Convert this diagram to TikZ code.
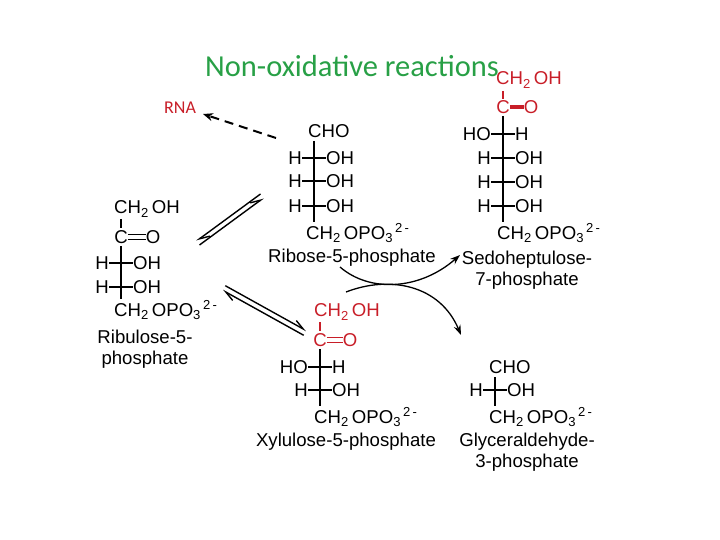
\documentclass[tikz,border=0pt]{standalone}
\usepackage{fontspec}
\setmainfont{Liberation Sans}
\newfontfamily\calfont{Carlito}
\usetikzlibrary{arrows.meta}
\definecolor{tgreen}{RGB}{40,160,70}
\definecolor{tred}{RGB}{200,30,40}
\newcommand{\ctw}{CH\textsubscript{2}\,OH}
\newcommand{\pho}{CH\textsubscript{2}\,OPO\textsubscript{3}\textsuperscript{\,2\,-}}
% row: name, spine x, y, left text, right text
\newcommand{\frow}[5]{%
  \node[txt,anchor=east] (#1L) at (#2-12,#3) {#4};
  \node[txt,anchor=west] (#1R) at (#2+12,#3) {#5};
  \draw[bond] (#1L.east) -- (#1R.west);}
\begin{document}
\begin{tikzpicture}[x=1pt,y=-1pt,
  txt/.style={inner sep=0pt,font=\fontsize{18.6}{21}\selectfont},
  bond/.style={line width=1.8pt},
  eq/.style={line width=1.4pt,-{Straight Barb[left,length=10pt,width=8pt]}},
  curv/.style={line width=1.3pt,-{Stealth[length=10pt,width=7pt]}}]
\useasboundingbox (0,0) rectangle (720,540);
\node[font=\calfont\fontsize{30.5}{33}\selectfont,text=tgreen] (title) at (352,66) {Non-oxidative reactions};
\node[font=\calfont\fontsize{18}{20}\selectfont,text=tred] (rna) at (180,108) {RNA};

% Ribose-5-phosphate
\node[txt,anchor=west] (rtop) at (308,131) {CHO};
\frow{ra}{314}{158}{H}{OH}
\frow{rb}{314}{181}{H}{OH}
\frow{rc}{314}{206}{H}{OH}
\node[txt,anchor=west] (rbot) at (306,233) {\pho};
\draw[bond] (314,141) -- (314,222);
\node[txt] (rlab) at (352,258) {Ribose-5-phosphate};

% Ribulose-5-phosphate
\node[txt,anchor=west] (utop) at (114,209) {\ctw};
\node[txt] (uc) at (121,237) {C};
\node[txt] (uo) at (153,237) {O};
\draw[line width=1.2pt] ([yshift=-2.5]uc.east) -- ([yshift=-2.5]uo.west);
\draw[line width=1.2pt] ([yshift=2.5]uc.east) -- ([yshift=2.5]uo.west);
\frow{ua}{121}{263}{H}{OH}
\frow{ub}{121}{287}{H}{OH}
\node[txt,anchor=west] (ubot) at (114,310) {\pho};
\draw[bond] (121,219) -- (121,228);
\draw[bond] (121,246) -- (121,299);
\node[txt,align=center] (ulab) at (145,349) {Ribulose-5-\\phosphate};

% Sedoheptulose-7-phosphate
\node[txt,anchor=west,text=tred] (stop) at (496,80) {\ctw};
\node[txt,text=tred] (sc) at (503,107) {C};
\node[txt,text=tred] (so) at (531,107) {O};
\draw[tred,line width=4pt] (sc.east) -- (so.west);
\draw[tred,bond] (503,91) -- (503,99);
\frow{sa}{503}{134}{HO}{H}
\frow{sb}{503}{158}{H}{OH}
\frow{sd}{503}{182}{H}{OH}
\frow{se}{503}{206}{H}{OH}
\draw[bond] (503,116) -- (503,222);
\node[txt,anchor=west] (sbot) at (497,233) {\pho};
\node[txt,align=center] (slab) at (527,270) {Sedoheptulose-\\7-phosphate};

% Xylulose-5-phosphate
\node[txt,anchor=west,text=tred] (xtop) at (314,312) {\ctw};
\node[txt,text=tred] (xc) at (320,340) {C};
\node[txt,text=tred] (xo) at (350,340) {O};
\draw[tred,line width=1.2pt] ([yshift=-2.5]xc.east) -- ([yshift=-2.5]xo.west);
\draw[tred,line width=1.2pt] ([yshift=2.5]xc.east) -- ([yshift=2.5]xo.west);
\draw[tred,bond] (320,322) -- (320,331);
\frow{xa}{320}{367}{HO}{H}
\frow{xb}{320}{390}{H}{OH}
\draw[bond] (320,349) -- (320,406);
\node[txt,anchor=west] (xbot) at (314,417) {\pho};
\node[txt] (xlab) at (346,442) {Xylulose-5-phosphate};

% Glyceraldehyde-3-phosphate
\node[txt,anchor=west] (gtop) at (489,367) {CHO};
\frow{ga}{495}{390}{H}{OH}
\draw[bond] (495,377) -- (495,406);
\node[txt,anchor=west] (gbot) at (489,417) {\pho};
\node[txt,align=center] (glab) at (527,452) {Glyceraldehyde-\\3-phosphate};

% arrows
\coordinate (rnaS) at (276,138);
\coordinate (rnaE) at (203,114);
\draw[line width=2pt,dash pattern=on 9pt off 6pt,-{Stealth[length=10pt,width=8pt]}] (rnaS) -- (rnaE);
\coordinate (e1a) at (198,243); \coordinate (e1b) at (262,196);
\draw[eq] ([shift={(1.5,2)}]e1a) -- ([shift={(1.5,2)}]e1b);
\draw[eq] ([shift={(-1.5,-2)}]e1b) -- ([shift={(-1.5,-2)}]e1a);
\coordinate (e2a) at (224,288); \coordinate (e2b) at (305,333);
\draw[eq] ([shift={(1.3,-2.3)}]e2a) -- ([shift={(1.3,-2.3)}]e2b);
\draw[eq] ([shift={(-1.3,2.3)}]e2b) -- ([shift={(-1.3,2.3)}]e2a);
\coordinate (c1s) at (340,267); \coordinate (c1e) at (460,255);
\draw[curv] (c1s) .. controls (370,293) and (420,290) .. (c1e);
\coordinate (c2s) at (346,292); \coordinate (c2e) at (461,335);
\draw[curv] (c2s) .. controls (390,275) and (440,285) .. (c2e);
\end{tikzpicture}
\end{document}
